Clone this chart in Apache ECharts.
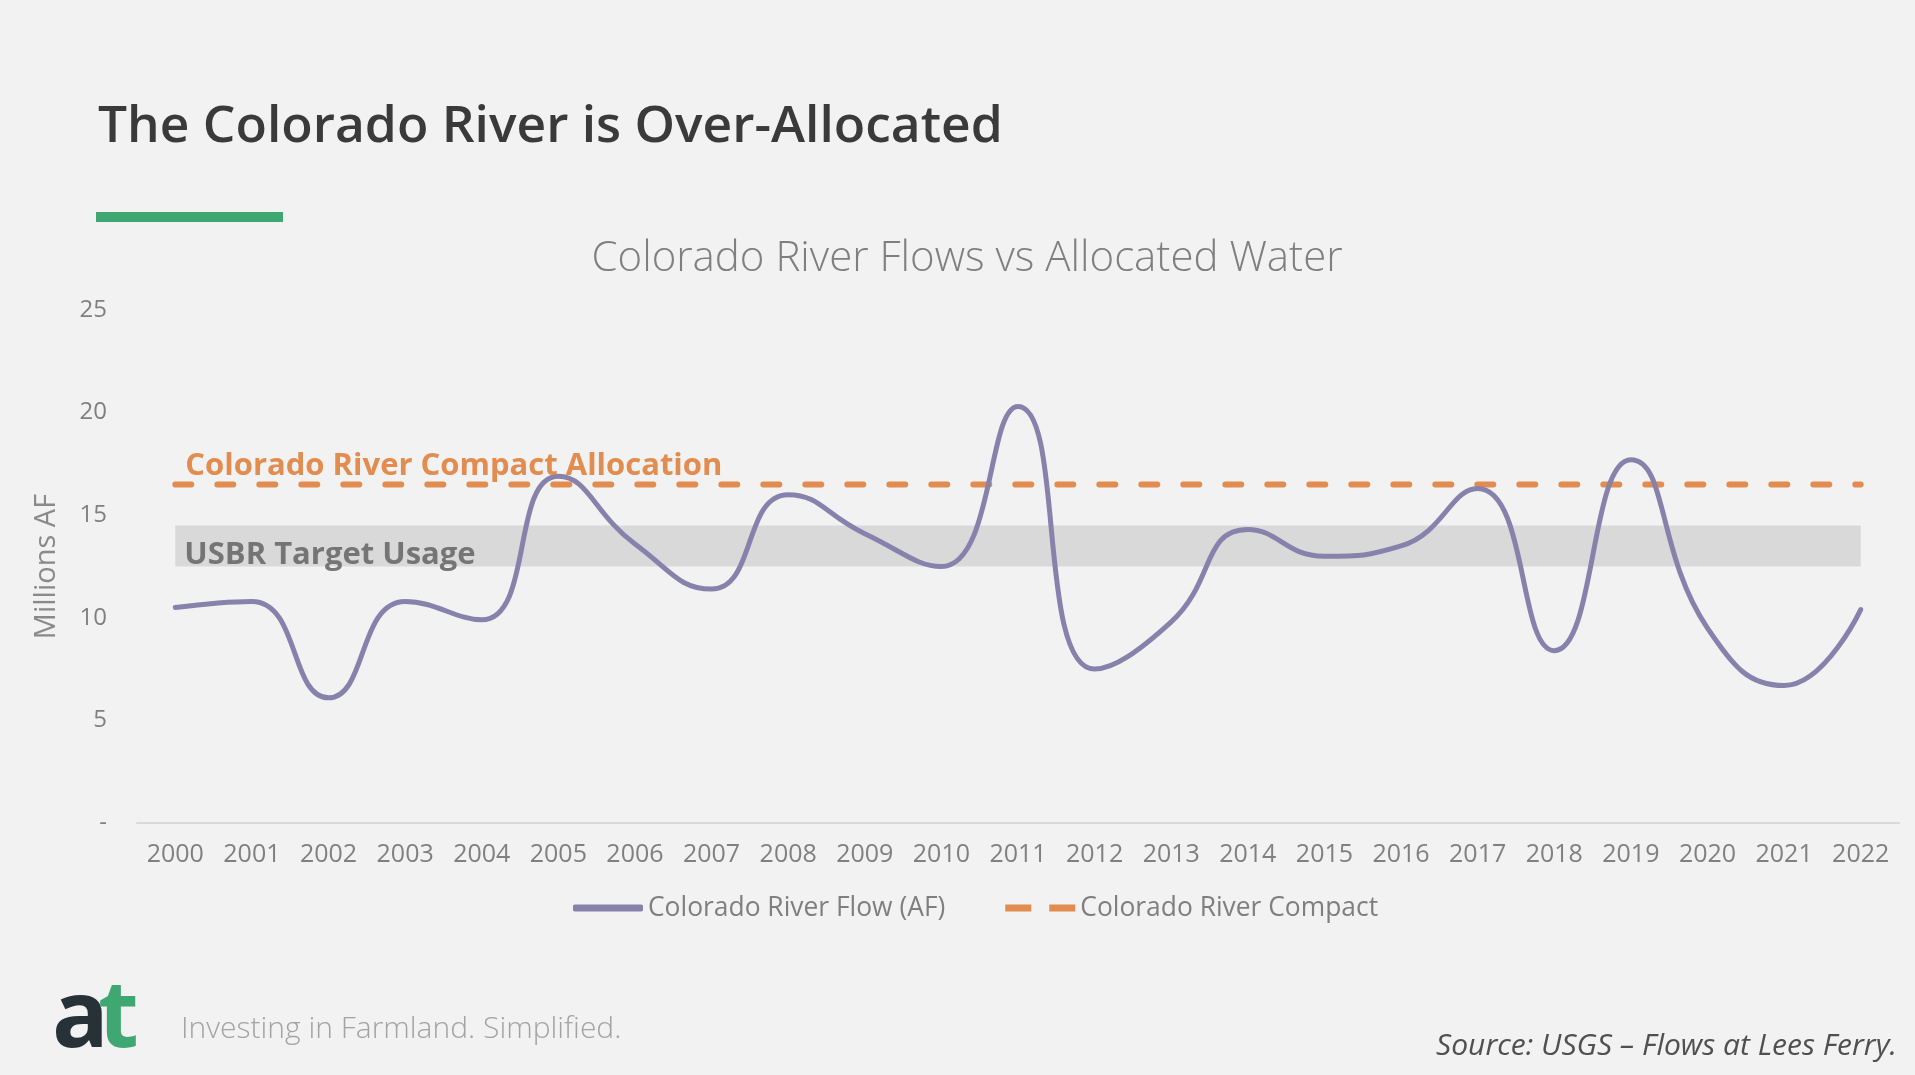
<!DOCTYPE html>
<html>
<head>
<meta charset="utf-8">
<title>The Colorado River is Over-Allocated</title>
<script src="https://cdn.jsdelivr.net/npm/echarts@6/dist/echarts.min.js"></script>
<style>
  html, body { margin: 0; padding: 0; background: #f2f2f2; }
  #chart { width: 1915px; height: 1075px; }
</style>
</head>
<body>
<div id="chart"></div>
<script>
// values (millions of acre-feet)
var years = ['2000', '2001', '2002', '2003', '2004', '2005', '2006', '2007', '2008', '2009', '2010', '2011',
             '2012', '2013', '2014', '2015', '2016', '2017', '2018', '2019', '2020', '2021', '2022'];
var flow = [10.5, 10.8, 6.1, 10.8, 9.9, 16.9, 13.6, 11.4, 16.0, 14.1, 12.5, 20.3,
            7.5, 9.8, 14.3, 13.0, 13.5, 16.3, 8.4, 17.7, 9.5, 6.7, 10.4];
var compact = [16.5, 16.5, 16.5, 16.5, 16.5, 16.5, 16.5, 16.5, 16.5, 16.5, 16.5, 16.5,
               16.5, 16.5, 16.5, 16.5, 16.5, 16.5, 16.5, 16.5, 16.5, 16.5, 16.5];
var usbrBand = [12.5, 14.5];
var yTicks = [0, 5, 10, 15, 20, 25];

var FONT = '"Open Sans", "Noto Sans", sans-serif';
var flowColor = '#8682ac';
var orange = '#e28c4f';
var green = '#3fa772';

var chart = echarts.init(document.getElementById('chart'), null, {renderer: 'canvas'});

chart.setOption({
    backgroundColor: '#f2f2f2',
    textStyle: {fontFamily: FONT},
    title: [{
        text: 'The Colorado River is Over-Allocated',
        left: 93,
        top: 96,
        textStyle: {fontFamily: FONT, fontSize: 51.5, fontWeight: 600, color: '#3a3a3a'}
    }, {
        text: 'Colorado River Flows vs Allocated Water',
        left: 962,
        textAlign: 'center',
        top: 233,
        textStyle: {fontFamily: FONT, fontSize: 42, fontWeight: 300, color: '#7f7f7f'}
    }],
    graphic: [
        {type: 'rect', shape: {x: 96, y: 212, width: 187, height: 10}, style: {fill: green}},
        {type: 'text', left: 52, top: 973, style: {text: 'a', font: 'bold 94px "Open Sans", sans-serif', fill: '#263238'}},
        {type: 'text', left: 98, top: 973, style: {text: 't', font: 'bold 94px "Open Sans", sans-serif', fill: green}},
        {type: 'text', left: 181, top: 1014, style: {text: 'Investing in Farmland. Simplified.', font: '300 30px ' + FONT, fill: '#a3a3a3'}},
        {type: 'text', right: 18, top: 1031, style: {text: 'Source: USGS \u2013 Flows at Lees Ferry.', font: 'italic 30px ' + FONT, fill: '#505050'}}
    ],
    legend: {
        bottom: 149,
        left: 568,
        itemWidth: 70,
        itemHeight: 7,
        itemGap: 60,
        textStyle: {fontFamily: FONT, fontSize: 26.4, color: '#7f7f7f'},
        data: [
            {name: 'Colorado River Flow (AF)', icon: 'roundRect'},
            {name: 'Colorado River Compact', icon: 'path://M0,0H26V7H0Z M44,0H70V7H44Z'}
        ]
    },
    grid: {left: 137, right: 16, top: 310, bottom: 252},
    xAxis: {
        type: 'category',
        data: years,
        boundaryGap: true,
        axisLine: {lineStyle: {color: '#d9d9d9', width: 2}},
        axisTick: {show: false},
        axisLabel: {fontFamily: FONT, fontSize: 25, color: '#808080', margin: 19}
    },
    yAxis: {
        type: 'value',
        min: 0,
        max: 25,
        interval: 5,
        name: 'Millions AF',
        nameLocation: 'middle',
        nameGap: 76,
        nameTextStyle: {fontFamily: FONT, fontSize: 29, color: '#8a8a8a'},
        axisLine: {show: false},
        axisTick: {show: false},
        splitLine: {show: false},
        axisLabel: {
            fontFamily: FONT, fontSize: 24, color: '#808080', margin: 30,
            formatter: function (v) { return yTicks.indexOf(v) === 0 ? '-' : String(v); }
        }
    },
    series: [{
        name: 'Colorado River Compact',
        type: 'line',
        data: compact,
        symbol: 'none',
        z: 3,
        lineStyle: {color: orange, width: 6, type: [16, 26], cap: 'round'},
        itemStyle: {color: orange},
        markLine: {
            silent: true,
            symbol: 'none',
            lineStyle: {color: 'rgba(0,0,0,0)', width: 1, type: 'solid'},
            data: [[{coord: [years[0], compact[0]]}, {coord: [years[years.length - 1], compact[0]]}]],
            label: {
                show: true,
                position: 'insideStartTop',
                distance: [10, 3],
                formatter: 'Colorado River Compact Allocation',
                fontFamily: FONT, fontSize: 31, fontWeight: 'bold', color: orange
            }
        },
        markArea: {
            silent: true,
            itemStyle: {color: '#d9d9d9'},
            label: {
                show: true,
                position: 'insideLeft',
                distance: 9,
                offset: [0, 9],
                formatter: 'USBR Target Usage',
                fontFamily: FONT, fontSize: 31, fontWeight: 'bold', color: '#757575'
            },
            data: [[{coord: [years[0], usbrBand[1]]}, {coord: [years[years.length - 1], usbrBand[0]]}]]
        }
    }, {
        name: 'Colorado River Flow (AF)',
        type: 'line',
        data: flow,
        smooth: true,
        symbol: 'none',
        z: 4,
        lineStyle: {color: flowColor, width: 5, cap: 'round'},
        itemStyle: {color: flowColor}
    }]
});
</script>
</body>
</html>
